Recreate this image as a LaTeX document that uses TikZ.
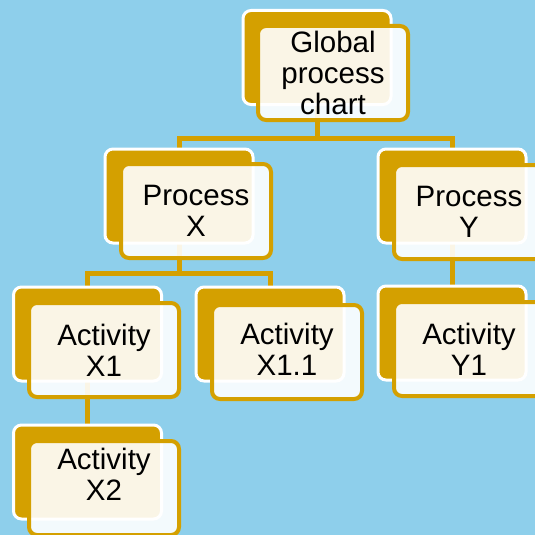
\documentclass[tikz,border=0pt]{standalone}
\usepackage{fontspec}
\setmainfont{Liberation Sans}
\usetikzlibrary{backgrounds}
\definecolor{bgblue}{RGB}{142,207,235}
\definecolor{gold}{RGB}{212,160,0}
\begin{document}
\begin{tikzpicture}[x=1pt,y=-1pt,
  backbox/.style={draw=white, line width=3pt, fill=gold, rounded corners=8pt,
    minimum width=148pt, minimum height=94pt, inner sep=0pt},
  boxtext/.style={align=center, font=\fontsize{29.5}{31}\selectfont, inner sep=0pt},
  frontbox/.style={draw=gold, line width=4pt, fill=white, fill opacity=0.9, text opacity=1,
    rounded corners=8pt, minimum width=150pt, minimum height=94pt, boxtext},
  conn/.style={draw=gold, line width=5pt}]
\useasboundingbox (0,0) rectangle (535,535);
\clip (0,0) rectangle (535,535);
% units
\node[backbox] (gb) at (317,57.5) {};
\node[frontbox] (gf) at (333,73) {Global\\process\\chart};
\node[backbox] (pxb) at (179,196) {};
\node[frontbox] (pxf) at (196,211) {Process\\X};
\node[backbox] (pyb) at (452,196) {};
\node[frontbox] (pyf) at (469,212) {Process\\Y};
\node[backbox] (ax1b) at (87.5,334) {};
\node[frontbox] (ax1f) at (104,350) {Activity\\X1};
\node[backbox] (ax11b) at (270,334) {};
\node[frontbox] (ax11f) at (287,352) {};
\node[boxtext] (ax11t) at (287,349) {Activity\\X1.1};
\node[backbox] (ay1b) at (452,333) {};
\node[frontbox] (ay1f) at (469,349) {Activity\\Y1};
\node[backbox] (ax2b) at (87.5,472) {};
\node[frontbox] (ax2f) at (104,488) {};
\node[boxtext] (ax2t) at (104,474) {Activity\\X2};
\coordinate (busG) at (0,138);
\coordinate (busX) at (0,273);
\begin{scope}[on background layer]
  \fill[bgblue] (0,0) rectangle (535,535);
  \draw[conn] (gb.center) -- (gb.center |- busG) -| (pxb.center);
  \draw[conn] (gb.center |- busG) -| (pyb.center);
  \draw[conn] (pxb.center) -- (pxb.center |- busX) -| (ax1b.center);
  \draw[conn] (pxb.center |- busX) -| (ax11b.center);
  \draw[conn] (pyb.center) -- (ay1b.center);
  \draw[conn] (ax1b.center) -- (ax2b.center);
\end{scope}
\end{tikzpicture}
\end{document}
